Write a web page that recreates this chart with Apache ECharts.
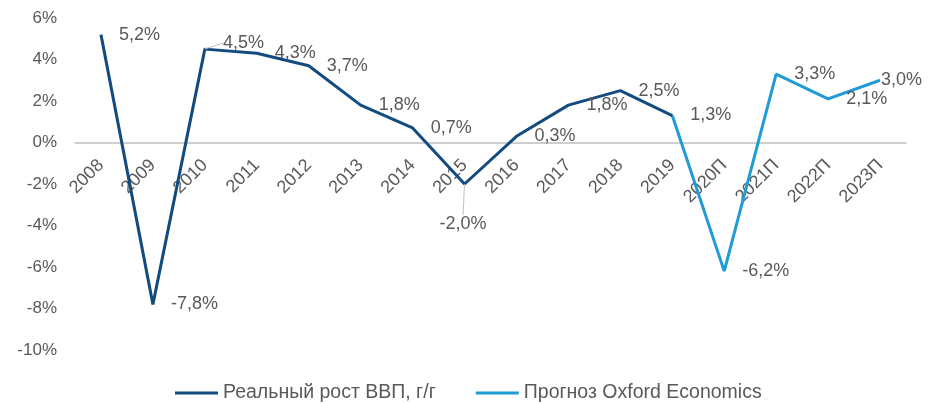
<!DOCTYPE html>
<html>
<head>
<meta charset="utf-8">
<script src="https://cdn.jsdelivr.net/npm/echarts@6/dist/echarts.min.js"></script>
<style>
  html, body { margin: 0; padding: 0; background: #fff; }
  #main { width: 931px; height: 403px; }
</style>
</head>
<body>
<div id="main"></div>
<script>
// категории и данные
var years = ['2008', '2009', '2010', '2011', '2012', '2013', '2014', '2015', '2016', '2017', '2018', '2019', '2020П', '2021П', '2022П', '2023П'];
var realGrowth = [5.2, -7.8, 4.5, 4.3, 3.7, 1.8, 0.7, -2.0, 0.3, 1.8, 2.5, 1.3, null, null, null, null];
var forecast = [null, null, null, null, null, null, null, null, null, null, null, 1.3, -6.2, 3.3, 2.1, 3.0];
var yTicks = [-10, -8, -6, -4, -2, 0, 2, 4, 6];

var chart = echarts.init(document.getElementById('main'));

function fmt(v) {
  return v.toFixed(1).replace('.', ',') + '%';
}

var labelColor = '#595959';
var darkBlue = '#124B80';
var lightBlue = '#1F9BD7';
var gridTop = 18, gridBottom = 53;
var yMin = yTicks[0], yMax = yTicks[yTicks.length - 1];
// сдвиг оси X к нулю
var plotH = 403 - gridTop - gridBottom;
var zeroOffset = -plotH * (0 - yMin) / (yMax - yMin);

// выноски только у 2010 и 2015
var realData = realGrowth.map(function (v, i) {
  if (i === 2 || i === 7) return { value: v, labelLine: { show: true } };
  return v;
});

var option = {
  animation: false,
  textStyle: { fontFamily: 'Liberation Sans, Arial, sans-serif' },
  grid: { top: gridTop, bottom: gridBottom, left: 75, right: 25, containLabel: false },
  legend: {
    bottom: 0,
    left: 175,
    padding: 0,
    icon: 'rect',
    itemWidth: 43,
    itemHeight: 3,
    itemGap: 40,
    textStyle: { color: labelColor, fontSize: 19.5 },
    data: ['Реальный рост ВВП, г/г', 'Прогноз Oxford Economics']
  },
  xAxis: {
    type: 'category',
    data: years,
    boundaryGap: true,
    offset: zeroOffset,
    axisLine: { onZero: false, lineStyle: { color: '#BFBFBF', width: 1.5 } },
    axisTick: { show: false },
    axisLabel: { rotate: 45, color: labelColor, fontSize: 18, margin: 20, interval: 0 }
  },
  yAxis: {
    type: 'value',
    min: yMin,
    max: yMax,
    interval: 2,
    axisLine: { show: false },
    axisTick: { show: false },
    splitLine: { show: false },
    axisLabel: {
      color: labelColor,
      fontSize: 17,
      margin: 18,
      formatter: function (v) { return v + '%'; }
    }
  },
  series: [
    {
      name: 'Реальный рост ВВП, г/г',
      type: 'line',
      data: realData,
      showSymbol: true,
      symbol: 'circle',
      symbolSize: 0.1,
      lineStyle: { color: darkBlue, width: 3 },
      itemStyle: { color: darkBlue },
      z: 3,
      label: {
        show: true,
        position: 'right',
        distance: 18,
        color: labelColor,
        fontSize: 18,
        formatter: function (p) { return fmt(p.value); }
      },
      labelLine: { show: false, lineStyle: { color: '#BFBFBF', width: 1 } },
      labelLayout: function (p) {
        if (p.dataIndex === 7) return { dx: -43, dy: 40 };
        if (p.dataIndex === 2) return { dy: -6 };
        return {};
      }
    },
    {
      name: 'Прогноз Oxford Economics',
      type: 'line',
      data: forecast,
      showSymbol: true,
      symbol: 'circle',
      symbolSize: 0.1,
      lineStyle: { color: lightBlue, width: 3 },
      itemStyle: { color: lightBlue },
      z: 2,
      label: {
        show: true,
        position: 'right',
        distance: 18,
        color: labelColor,
        fontSize: 18,
        formatter: function (p) {
          return p.dataIndex === 11 ? '' : fmt(p.value);
        }
      },
      labelLayout: function (p) {
        if (p.dataIndex === 15) return { dx: -17 };
        return {};
      }
    }
  ]
};

chart.setOption(option);
</script>
</body>
</html>
